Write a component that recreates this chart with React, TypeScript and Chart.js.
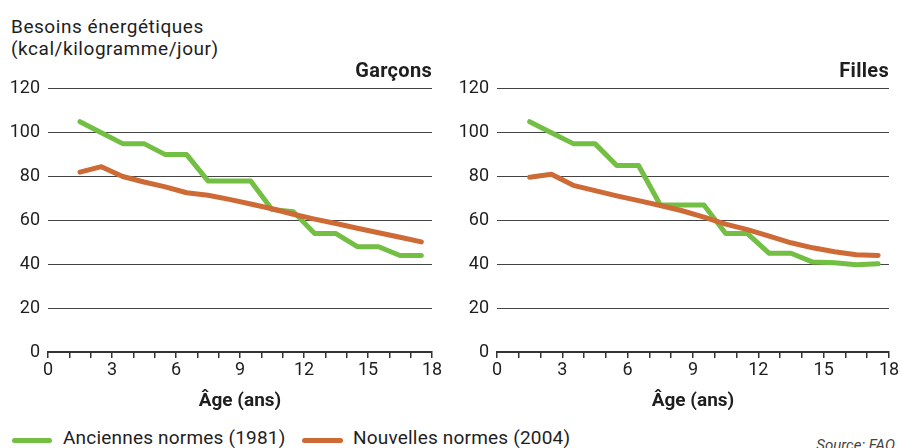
import React, { useEffect, useRef } from 'react';
import { Chart, registerables } from 'chart.js';

Chart.register(...registerables);

// ---- Data ----
const ages = [1.5, 2.5, 3.5, 4.5, 5.5, 6.5, 7.5, 8.5, 9.5, 10.5, 11.5, 12.5, 13.5, 14.5, 15.5, 16.5, 17.5];
const boysOld = [105, 100, 95, 95, 90, 90, 78, 78, 78, 65, 64, 54, 54, 48, 48, 44, 44];
const boysNew = [82, 84.5, 80, 77.5, 75.3, 72.6, 71.5, 69.6, 67.5, 65.3, 62.8, 60.6, 58.6, 56.4, 54.4, 52.3, 50.2];
const girlsOld = [105, 100, 95, 95, 85, 85, 67, 67, 67, 54, 54, 45, 45, 41, 40.7, 39.8, 40.2];
const girlsNew = [79.7, 81, 76, 73.6, 71.2, 69, 66.8, 64.4, 61.5, 58.3, 55.8, 52.8, 49.8, 47.5, 45.7, 44.3, 44];
const xTickValues = [0, 1, 2, 3, 4, 5, 6, 7, 8, 9, 10, 11, 12, 13, 14, 15, 16, 17, 18];
const xTickLabels = [0, 3, 6, 9, 12, 15, 18];
const yTickValues = [0, 20, 40, 60, 80, 100, 120];
const seriesOldLabel = 'Anciennes normes (1981)';
const seriesNewLabel = 'Nouvelles normes (2004)';

const GREEN = '#73bf44';
const ORANGE = '#cd6a36';
const TEXT = '#1e1e1e';
const FONT = 'Roboto, "Noto Sans", sans-serif';

type PanelProps = {
  oldData: number[];
  newData: number[];
  title: string;
  left: number;
  width: number;
  padRight: number;
  yWidth: number;
};

function Panel({ oldData, newData, title, left, width, padRight, yWidth }: PanelProps) {
  const ref = useRef<HTMLCanvasElement>(null);
  useEffect(() => {
    const chart = new Chart(ref.current as HTMLCanvasElement, {
      type: 'line',
      data: {
        datasets: [
          {
            label: seriesNewLabel,
            data: ages.map((a, i) => ({ x: a, y: newData[i] })),
            borderColor: ORANGE,
            backgroundColor: ORANGE,
            borderWidth: 5,
            pointRadius: 0,
            borderCapStyle: 'round',
            borderJoinStyle: 'round',
            tension: 0,
            order: 0,
          },
          {
            label: seriesOldLabel,
            data: ages.map((a, i) => ({ x: a, y: oldData[i] })),
            borderColor: GREEN,
            backgroundColor: GREEN,
            borderWidth: 5,
            pointRadius: 0,
            borderCapStyle: 'round',
            borderJoinStyle: 'round',
            tension: 0,
            order: 1,
          },
        ],
      },
      options: {
        animation: false,
        responsive: false,
        maintainAspectRatio: false,
        layout: { padding: { left: 0, right: padRight, top: 16, bottom: 0 } },
        plugins: { legend: { display: false }, tooltip: { enabled: false } },
        scales: {
          x: {
            type: 'linear',
            min: 0,
            max: 18,
            afterFit: (s: any) => {
              s.height = 68;
            },
            afterBuildTicks: (s: any) => {
              s.ticks = xTickValues.map((v) => ({ value: v }));
            },
            ticks: {
              autoSkip: false,
              maxRotation: 0,
              color: TEXT,
              font: { family: FONT, size: 18 },
              padding: 2,
              callback: (v: any) => (xTickLabels.includes(Number(v)) ? String(v) : ''),
            },
            grid: {
              drawOnChartArea: false,
              drawTicks: true,
              tickLength: 6,
              color: '#333',
              lineWidth: 1.5,
            },
            border: { display: true, color: '#333', width: 2 },
            title: {
              display: true,
              text: 'Âge (ans)',
              color: TEXT,
              font: { family: FONT, size: 19, weight: 'bold' },
              padding: { top: 0, bottom: 7 },
            },
          },
          y: {
            type: 'linear',
            min: 0,
            max: 120,
            afterFit: (s: any) => {
              s.width = yWidth;
            },
            afterBuildTicks: (s: any) => {
              s.ticks = yTickValues.map((v) => ({ value: v }));
            },
            ticks: {
              color: TEXT,
              font: { family: FONT, size: 18 },
              padding: 8,
            },
            grid: {
              drawTicks: false,
              color: (ctx: any) => (ctx.tick && ctx.tick.value === 0 ? 'rgba(0,0,0,0)' : '#444'),
              lineWidth: 1,
            },
            border: { display: false },
          },
        },
      },
    } as any);
    return () => chart.destroy();
  }, []);

  return (
    <>
      <canvas
        ref={ref}
        width={width}
        height={350}
        style={{ position: 'absolute', left, top: 70, width, height: 350 }}
      />
      <div
        style={{
          position: 'absolute',
          left,
          width: width - padRight,
          top: 60,
          textAlign: 'right',
          fontFamily: FONT,
          fontWeight: 'bold',
          fontSize: 20,
          lineHeight: '20px',
          letterSpacing: '0.3px',
          color: TEXT,
        }}
      >
        {title}
      </div>
    </>
  );
}

export default function App() {
  return (
    <div
      style={{
        position: 'fixed',
        left: 0,
        top: 0,
        width: 902,
        height: 448,
        overflow: 'hidden',
        background: '#fff',
        fontFamily: FONT,
        color: TEXT,
      }}
    >
      <div
        style={{
          position: 'absolute',
          left: 11,
          top: 16,
          fontSize: 19,
          lineHeight: '22px',
          letterSpacing: '0.55px',
        }}
      >
        Besoins énergétiques
        <br />
        (kcal/kilogramme/jour)
      </div>
      <Panel oldData={boysOld} newData={boysNew} title="Garçons" left={0} width={450} padRight={18} yWidth={48} />
      <Panel oldData={girlsOld} newData={girlsNew} title="Filles" left={450} width={452} padRight={13} yWidth={47} />
      <div style={{ position: 'absolute', left: 12, top: 438, width: 40, height: 5, borderRadius: 3, background: GREEN }} />
      <div style={{ position: 'absolute', left: 63, top: 428, fontSize: 19, lineHeight: '20px', letterSpacing: '0.2px', whiteSpace: 'nowrap' }}>
        {seriesOldLabel}
      </div>
      <div style={{ position: 'absolute', left: 302, top: 438, width: 41, height: 5, borderRadius: 3, background: ORANGE }} />
      <div style={{ position: 'absolute', left: 353, top: 428, fontSize: 19, lineHeight: '20px', letterSpacing: '0.2px', whiteSpace: 'nowrap' }}>
        {seriesNewLabel}
      </div>
      <div
        style={{
          position: 'absolute',
          right: 4,
          top: 438,
          fontSize: 15,
          lineHeight: '14px',
          fontStyle: 'italic',
          color: '#444',
          whiteSpace: 'nowrap',
        }}
      >
        Source: FAO.
      </div>
    </div>
  );
}
